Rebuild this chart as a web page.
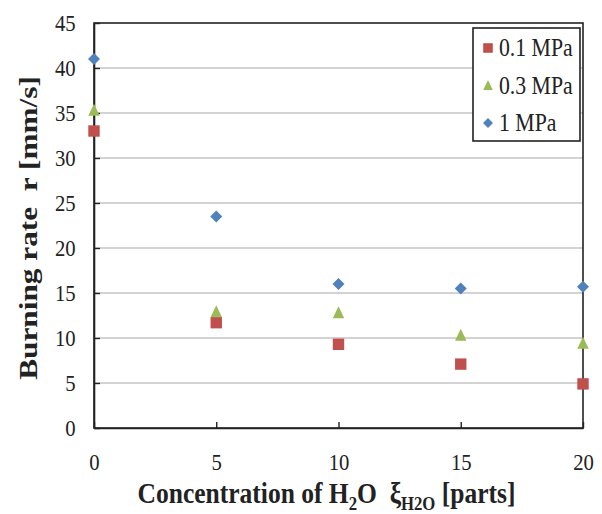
<!DOCTYPE html>
<html>
<head>
<meta charset="utf-8">
<script src="https://cdn.jsdelivr.net/npm/d3@7"></script>
<style>
  body { margin: 0; background: #fff; }
  text { font-family: "Liberation Serif", "Times New Roman", serif; }
</style>
</head>
<body>
<script>
const w = 602;
const h = 514;
const margin = { top: 23, right: 19, bottom: 86, left: 94 };

// data
const concentration = [0, 5, 10, 15, 20];
const rate01 = [33.0, 11.7, 9.3, 7.1, 4.9];
const rate03 = [35.3, 12.9, 12.8, 10.3, 9.4];
const rate1 = [41.0, 23.5, 16.0, 15.5, 15.7];
const seriesNames = ["0.1 MPa", "0.3 MPa", "1 MPa"];
const seriesColors = ["#C0504D", "#9BBB59", "#4F81BD"];
const seriesShapes = ["square", "triangle", "diamond"];
const yTicks = [0, 5, 10, 15, 20, 25, 30, 35, 40, 45];
const xTicks = [0, 5, 10, 15, 20];

// marker path centred on 0,0, r = half size
function markerPath(shape, r) {
  if (shape === "square") {
    return "M" + -r + "," + -r + "H" + r + "V" + r + "H" + -r + "Z";
  }
  if (shape === "triangle") {
    return "M0," + -r * 1.15 + "L" + r + "," + r * 0.95 + "L" + -r + "," + r * 0.95 + "Z";
  }
  return "M0," + -r + "L" + r + ",0L0," + r + "L" + -r + ",0Z";
}

const series = [rate01, rate03, rate1].map((vals, k) => ({
  name: seriesNames[k],
  color: seriesColors[k],
  shape: seriesShapes[k],
  points: vals.map((v, i) => ({ x: concentration[i], y: v }))
}));

const svg = d3
  .select("body")
  .append("svg")
  .attr("width", w)
  .attr("height", h);

const xScale = d3
  .scaleLinear()
  .domain([0, 20])
  .range([margin.left, w - margin.right]);
const yScale = d3
  .scaleLinear()
  .domain([0, 45])
  .range([h - margin.bottom, margin.top]);

// gridlines
svg
  .append("g")
  .selectAll("line")
  .data(yTicks.slice(1, -1))
  .enter()
  .append("line")
  .attr("x1", margin.left)
  .attr("x2", w - margin.right)
  .attr("y1", d => yScale(d))
  .attr("y2", d => yScale(d))
  .style("stroke", "#c4c4c4")
  .style("stroke-width", 1.3);

// plot border
svg
  .append("rect")
  .attr("x", margin.left)
  .attr("y", margin.top)
  .attr("width", w - margin.left - margin.right)
  .attr("height", h - margin.top - margin.bottom)
  .attr("fill", "none")
  .style("stroke", "#222")
  .style("stroke-width", 1.6);

// axes (ticks point inside)
const xAxis = d3
  .axisBottom(xScale)
  .tickValues(xTicks)
  .tickSizeInner(-6)
  .tickSizeOuter(0)
  .tickPadding(20);
const yAxis = d3
  .axisLeft(yScale)
  .tickValues(yTicks)
  .tickSizeInner(-6)
  .tickSizeOuter(0)
  .tickPadding(19);

const gx = svg
  .append("g")
  .attr("transform", "translate(0," + (h - margin.bottom) + ")")
  .call(xAxis);
const gy = svg
  .append("g")
  .attr("transform", "translate(" + margin.left + ",0)")
  .call(yAxis);

[gx, gy].forEach(g => {
  g.select(".domain").style("stroke", "#222").style("stroke-width", 1.6);
  g.selectAll(".tick line").style("stroke", "#222").style("stroke-width", 1.4);
  g.selectAll(".tick text")
    .style("font-family", "'Liberation Serif', serif")
    .style("font-size", "23px")
    .style("fill", "#222");
});
// slightly narrower glyphs like the original
gx.selectAll(".tick text").attr("transform", "scale(0.9,1)").attr("x", 0).attr("dy", "0.95em");
gy.selectAll(".tick text").attr("transform", "translate(-13,0) scale(0.9,1)").attr("x", -6);

// markers
series.forEach(s => {
  svg
    .append("g")
    .selectAll("path")
    .data(s.points)
    .enter()
    .append("path")
    .attr("transform", d => "translate(" + xScale(d.x) + "," + yScale(d.y) + ")")
    .attr("d", markerPath(s.shape, s.shape === "diamond" ? 6 : 5.7))
    .style("fill", s.color);
});

// legend
const legend = svg
  .append("g")
  .attr("transform", "translate(473,28)");

legend
  .append("rect")
  .attr("width", 107)
  .attr("height", 113)
  .attr("fill", "#fff")
  .style("stroke", "#222")
  .style("stroke-width", 1.6);

const items = legend
  .selectAll("g.item")
  .data(series)
  .enter()
  .append("g")
  .attr("class", "item")
  .attr("transform", (d, i) => "translate(15," + (20 + i * 37.5) + ")");

items
  .append("path")
  .attr("d", d => markerPath(d.shape, d.shape === "diamond" ? 5 : 4.8))
  .style("fill", d => d.color);

items
  .append("text")
  .attr("transform", "translate(11,8) scale(0.87,1)")
  .text(d => d.name)
  .style("font-size", "25px")
  .style("fill", "#222");

// axis titles
svg
  .append("text")
  .attr("transform", "translate(" + ((margin.left + w - margin.right) / 2 - 12) + ",503) scale(0.88,1)")
  .attr("text-anchor", "middle")
  .style("font-size", "29px")
  .style("font-weight", "bold")
  .style("fill", "#222")
  .style("white-space", "pre")
  .html('Concentration of H<tspan font-size="19px" dy="7">2</tspan><tspan dy="-7">O  ξ</tspan><tspan font-size="19px" dy="7">H2O</tspan><tspan dy="-7"> [parts]</tspan>');

svg
  .append("text")
  .attr("transform", "translate(37,228) rotate(-90) scale(1.16,0.92)")
  .attr("text-anchor", "middle")
  .style("font-size", "27px")
  .style("font-weight", "bold")
  .style("fill", "#222")
  .style("white-space", "pre")
  .text("Burning rate  r [mm/s]");
</script>
</body>
</html>
